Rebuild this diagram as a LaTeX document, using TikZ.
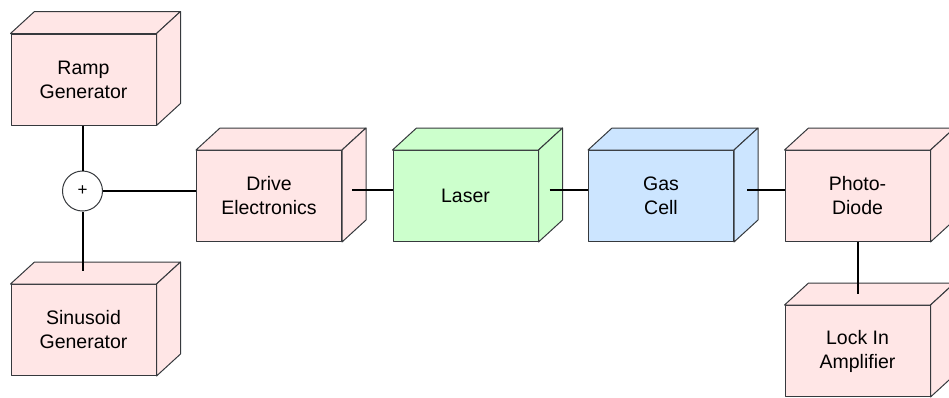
\documentclass[tikz,border=0pt]{standalone}
\usepackage{fontspec}
\setmainfont{Liberation Sans}
\usetikzlibrary{positioning}

\definecolor{boxred}{HTML}{FFE6E6}
\definecolor{boxgreen}{HTML}{CCFFCC}
\definecolor{boxblue}{HTML}{CCE5FF}
\definecolor{edge}{HTML}{36393D}

\tikzset{
  block/.style={draw=edge, fill=#1, line width=1pt, minimum width=145pt,
    minimum height=91pt, inner sep=0pt, align=center,
    font=\fontsize{19.5}{24}\selectfont},
  wire/.style={line width=2pt},
}

\begin{document}
\begin{tikzpicture}[x=1pt, y=-1pt, line join=round]
        \useasboundingbox (0,0) rectangle (949,397);
        \node[block=boxred]   (ramp)   at (83.5, 79.5) {Ramp\\Generator};
        \node[block=boxred]   (sine)   at (83.5, 330)  {Sinusoid\\Generator};
        \node[block=boxred]   (drive)  at (269, 196)   {Drive\\Electronics};
        \node[block=boxgreen] (laser)  at (465.5, 196) {Laser};
        \node[block=boxblue]  (gas)    at (661, 196)   {Gas\\Cell};
        \node[block=boxred]   (photo)  at (857.5, 196) {Photo-\\Diode};
        \node[block=boxred]   (lockin) at (857.5, 351) {Lock In\\Amplifier};
        \foreach \n/\c in {ramp/boxred,sine/boxred,drive/boxred,laser/boxgreen,
                           gas/boxblue,photo/boxred,lockin/boxred} {
            \filldraw[fill=\c, draw=edge, line width=1pt] (\n.north west) -- ++(24,-22)
                -- ([shift={(24,-22)}]\n.north east) -- (\n.north east) -- cycle;
            \filldraw[fill=\c, draw=edge, line width=1pt] (\n.north east) -- ++(24,-22)
                -- ([shift={(24,-22)}]\n.south east) -- (\n.south east) -- cycle;
        }
        \node[circle, draw=edge, fill=white, line width=1pt, minimum size=40pt,
              inner sep=0pt, font=\fontsize{17}{19}\selectfont] (sum) at (82.5, 191) {+};
        \draw[wire] (ramp.south -| sum.north) -- (sum.north);
        \draw[wire] (sum.south) -- ([yshift=13pt]sine.north -| sum.south);
        \draw[wire] (sum.east) -- (drive.west |- sum.east);
        \draw[wire] ([shift={(10,-6)}]drive.east) -- ([yshift=6pt]laser.west);
        \draw[wire] ([shift={(11,-6)}]laser.east) -- ([yshift=6pt]gas.west);
        \draw[wire] ([shift={(13,-6)}]gas.east) -- ([yshift=6pt]photo.west);
        \draw[wire] (photo.south) -- ([yshift=11pt]lockin.north);
\end{tikzpicture}
\end{document}
